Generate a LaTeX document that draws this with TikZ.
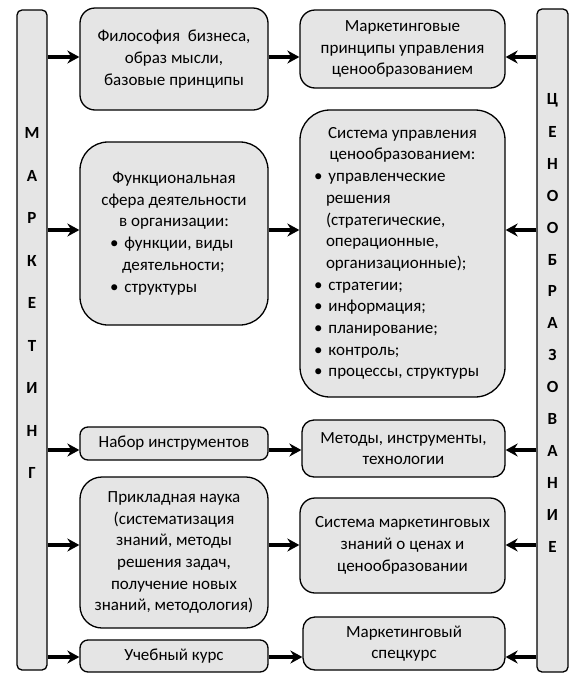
\documentclass[tikz,border=0pt]{standalone}
\usepackage{fontspec}
\setmainfont{Carlito}
\usetikzlibrary{arrows.meta}
\newcommand{\itm}[2]{\makebox[#1][l]{\textbullet\hspace{6pt}#2}}
\newcommand{\cnt}[2]{\makebox[#1][l]{\hspace{12pt}#2}}
\tikzset{
  box/.style={draw,line width=1.3pt,fill=gray!20,rounded corners=#1,align=center,inner sep=0pt},
  box/.default=8pt,
  bar/.style={draw,line width=1.3pt,fill=gray!20,rounded corners=5pt,minimum width=30,inner sep=0pt},
  letter/.style={font=\fontsize{17}{20}\selectfont\bfseries},
  link/.style={line width=3.5pt,-{Stealth[length=12pt,width=13pt,inset=4pt]}}
}
\begin{document}
\begin{tikzpicture}[x=1pt,y=-1pt,font=\fontsize{17}{21.7}\selectfont]
\useasboundingbox (0,0) rectangle (580,686);
% side bars
\node[bar,minimum height=660] (lbar) at (32,340) {};
\node[bar,minimum width=31,minimum height=663] (rbar) at (552.5,340.5) {};
\foreach \l [count=\i] in {М,А,Р,К,Е,Т,И,Н,Г}
  \node[letter] at (32,{133+42.5*(\i-1)}) {\l};
\foreach \l [count=\i] in {Ц,Е,Н,О,О,Б,Р,А,З,О,В,А,Н,И,Е}
  \node[letter] at (552.5,{100+31.9*(\i-1)}) {\l};
% left column
\node[box=15pt,minimum width=188,minimum height=102] (phil) at (174,59)
  {Философия\ \ бизнеса,\\образ мысли,\\базовые принципы};
\node[box=28pt,minimum width=188,minimum height=183] (func) at (174,233.5)
  {Функциональная\\сфера деятельности\\в организации:\\
   \itm{128pt}{функции, виды}\\\cnt{128pt}{деятельности;}\\\itm{128pt}{структуры}};
\node[box,minimum width=188,minimum height=33] (tools) at (174,443.5) {Набор инструментов};
\node[box=22pt,minimum width=188,minimum height=151] (appl) at (174,552.5)
  {Прикладная наука\\(систематизация\\знаний, методы\\решения задач,\\получение новых\\знаний, методология)};
\node[box,minimum width=188,minimum height=32] (course) at (174,656) {Учебный курс};
% right column
\node[box=15pt,minimum width=205,minimum height=78] (princ) at (402.5,49)
  {Маркетинговые\\принципы управления\\ценообразованием};
\node[box=30pt,minimum width=205,minimum height=287] (sys) at (402.5,253.5)
  {Система управления\\ценообразованием:\\
   \itm{177pt}{управленческие}\\\cnt{177pt}{решения}\\\cnt{177pt}{(стратегические,}\\
   \cnt{177pt}{операционные,}\\\cnt{177pt}{организационные);}\\\itm{177pt}{стратегии;}\\
   \itm{177pt}{информация;}\\\itm{177pt}{планирование;}\\\itm{177pt}{контроль;}\\
   \itm{177pt}{процессы, структуры}};
\node[box=12pt,minimum width=203,minimum height=57] (meth) at (403.5,448.5)
  {Методы, инструменты,\\технологии};
\node[box=15pt,minimum width=205,minimum height=95] (know) at (402.5,545.5)
  {Система маркетинговых\\знаний о ценах и\\ценообразовании};
\node[box=12pt,minimum width=202,minimum height=53] (spec) at (404,643.5)
  {Маркетинговый\\спецкурс};
% arrow rows
\coordinate (r1) at (0,57);
\coordinate (r2) at (0,230);
\coordinate (r3) at (0,450);
\coordinate (r4) at (0,545);
\coordinate (r5) at (0,657);
\foreach \row/\a/\b in {r1/phil/princ,r2/func/sys,r3/tools/meth,r4/appl/know,r5/course/spec}{
  \draw[link] (lbar.east |- \row) -- (\a.west |- \row);
  \draw[link] (\a.east |- \row) -- (\b.west |- \row);
  \draw[link] (rbar.west |- \row) -- (\b.east |- \row);
}
\end{tikzpicture}
\end{document}
